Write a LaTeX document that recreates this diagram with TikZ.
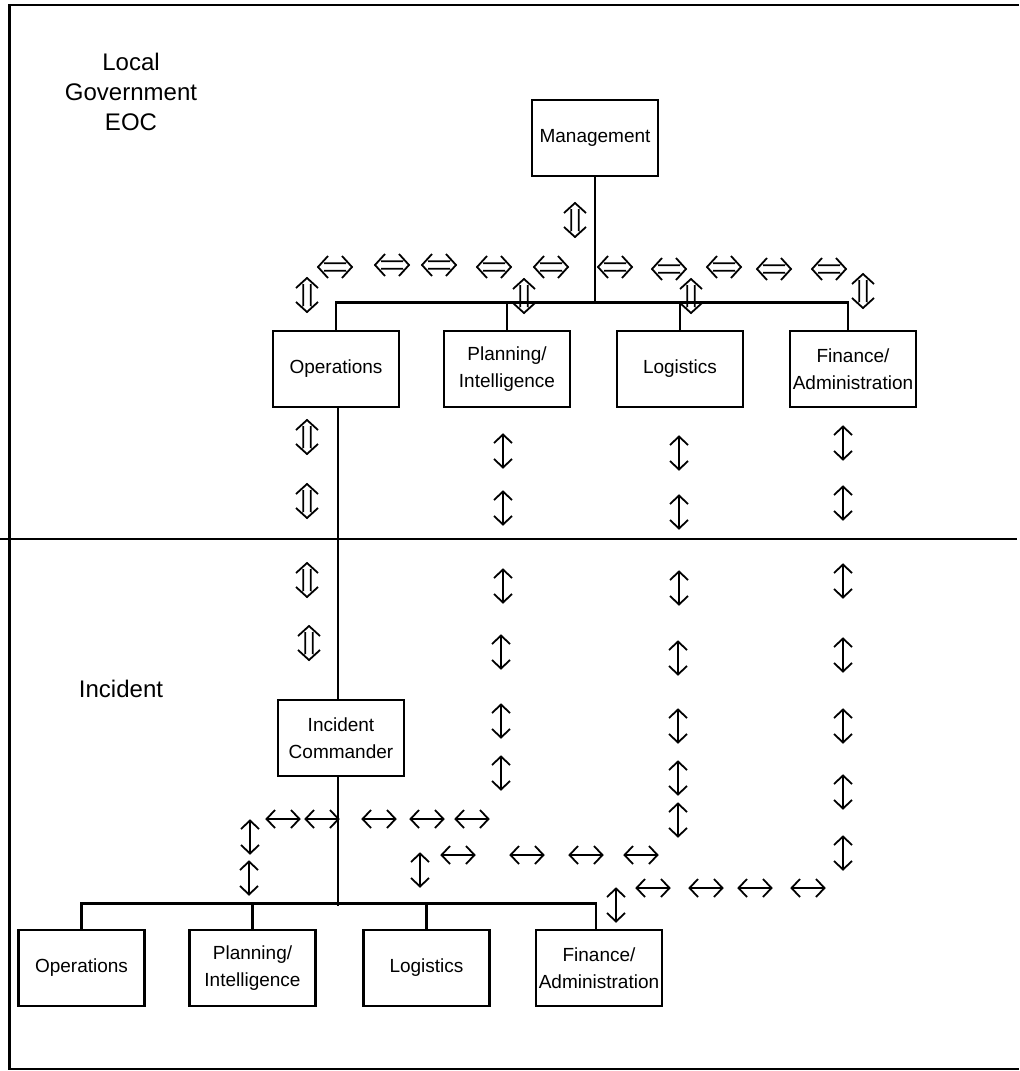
\documentclass[tikz,border=0pt]{standalone}
\usepackage{fontspec}
\setmainfont{Liberation Sans}
\usepackage{tikz}

\begin{document}
\begin{tikzpicture}[x = .5pt, y = -.5pt,
    box/.style = {draw, line width = 1.3pt, minimum width = 63pt, minimum height = 38pt,
      inner sep = 0pt, align = center, font = \fontsize{9.5}{13.5}\selectfont},
    title/.style = {align = center, font = \fontsize{12}{15}\selectfont},
    bar/.style = {line width = 1.4pt},
    arr/.style = {line width = .9pt},
    dblarr/.pic = {\draw[arr] (-11,3.8) -- (11,3.8) (-11,-3.8) -- (11,-3.8)
      (-7,11) -- (-17,0) -- (-7,-11) (7,11) -- (17,0) -- (7,-11);},
    sglarr/.pic = {\draw[arr] (-16.5,0) -- (16.5,0)
      (-8,9) -- (-16.5,0) -- (-8,-9) (8,9) -- (16.5,0) -- (8,-9);}]
        \useasboundingbox (0,0) rectangle (1019,1071);
        \draw[bar] (1019,5) -- (9.5,5) -- (9.5,1069) -- (1019,1069);
        \draw[bar] (0,539) -- (1017,539);
        \node[title] (eoc) at (131,92) {Local\\Government\\EOC};
        \node[title] (inc) at (121,689) {Incident};
        % EOC boxes
        \node[box] (mgmt) at (595,138) {Management};
        \node[box] (eops) at (336,369) {Operations};
        \node[box] (eplan) at (507,369) {Planning/\\Intelligence};
        \node[box] (elog) at (680,369) {Logistics};
        \node[box] (efin) at (853,369) {Finance/\\Administration};
        \draw[bar] (eops.north) -- ++(0,-27) -| ([xshift=-2.5pt]efin.north);
        \draw[bar] (eplan.north) -- ++(0,-27);
        \draw[bar] (elog.north) -- ++(0,-27);
        \draw[bar] (mgmt.south) -- ++(0,127);
        % incident boxes
        \node[box] (ic) at (341,738) {Incident\\Commander};
        \node[box] (iops) at (81.5,968) {Operations};
        \node[box] (iplan) at (252.5,968) {Planning/\\Intelligence};
        \node[box] (ilog) at (426.5,968) {Logistics};
        \node[box] (ifin) at (599,968) {Finance/\\Administration};
        \draw[bar] (iops.north) -- ++(0,-25) -| ([xshift=-1.5pt]ifin.north);
        \draw[bar] (iplan.north) -- ++(0,-25);
        \draw[bar] (ilog.north) -- ++(0,-25);
        \draw[bar] ([xshift=1pt]eops.south) -- ([xshift=1pt]eops.south |- ic.north);
        \draw[bar] ([xshift=-1.5pt]ic.south) -- ++(0,129);
        % arrows
        \foreach \x/\y in {335/267, 392/265, 439/265, 494/267, 551/267,
            615/267, 669/269, 724/267, 774/269, 829/269}
          \pic at (\x,\y) {dblarr};
        \foreach \x/\y in {575/220, 307/295, 524/296, 691/296, 863/291,
            307/437, 307/501, 307/580, 309/643}
          \pic[rotate=90] at (\x,\y) {dblarr};
        \foreach \x/\y in {283/819, 322/819, 379/819, 427/819, 472/819,
            458/855, 527/855, 586/855, 641/855, 653/888, 706/888, 755/888, 808/888}
          \pic at (\x,\y) {sglarr};
        \foreach \x/\y in {503/451, 503/508, 503/586, 501/652, 501/721, 501/773,
            679/453, 679/512, 679/588, 678/658, 678/726, 678/778, 678/820,
            843/443, 843/503, 843/581, 843/655, 843/726, 843/792, 843/853,
            250/837, 249/878, 420/870, 616/905}
          \pic[rotate=90] at (\x,\y) {sglarr};
      \end{tikzpicture}
\end{document}
